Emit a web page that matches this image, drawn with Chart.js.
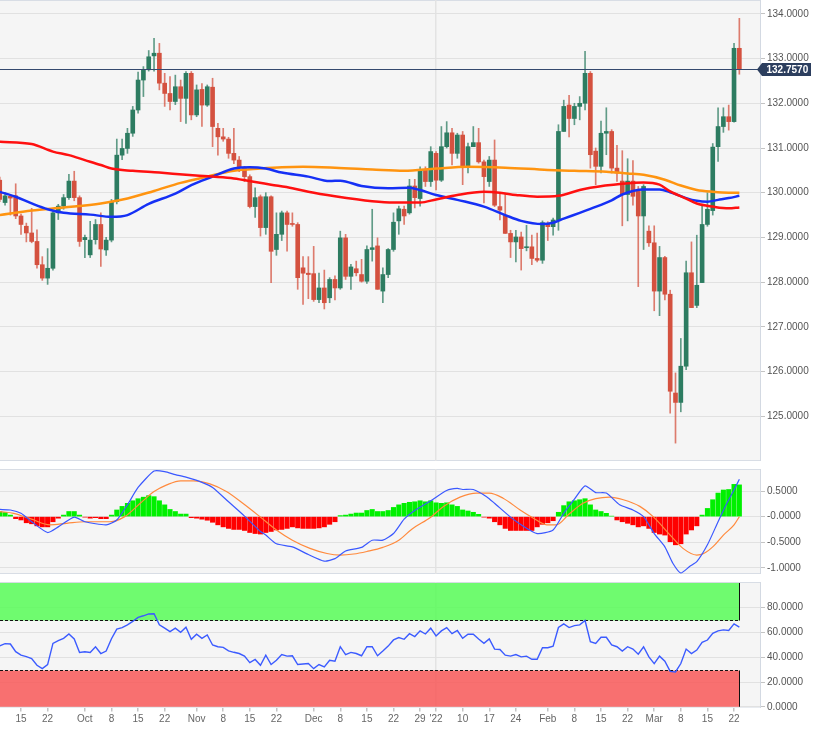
<!DOCTYPE html>
<html>
<head>
<meta charset="utf-8">
<script src="https://cdn.jsdelivr.net/npm/chart.js@4.4.1/dist/chart.umd.min.js"></script>
<style>
  body { margin: 0; background: #ffffff; }
  .panel { position: absolute; left: 0; }
  canvas { display: block; }
</style>
</head>
<body>
<div class="panel" style="top:0"><canvas id="priceChart" width="831" height="461"></canvas></div>
<div class="panel" style="top:469px"><canvas id="macdChart" width="831" height="105"></canvas></div>
<div class="panel" style="top:582px"><canvas id="rsiChart" width="831" height="151"></canvas></div>
<script>
// trading-day index of each date label on the bottom axis
const tickIdx = [4, 9, 16, 21, 26, 31, 37, 42, 47, 52, 59, 64, 69, 74, 79, 82, 87, 92, 97, 103, 108, 113, 118, 123, 128, 133, 138];
const tickLabels = ['15', '22', 'Oct', '8', '15', '22', 'Nov', '8', '15', '22', 'Dec', '8', '15', '22', '29', "'22", '10', '17', '24', 'Feb', '8', '15', '22', 'Mar', '8', '15', '22'];
const yearIdx = 82;

const opens = [130.28,129.78,129.92,129.93,129.48,129.25,129.10,128.91,128.39,128.09,
  128.31,129.55,129.70,129.89,130.26,129.89,128.95,128.61,128.95,129.29,
  128.72,128.94,129.80,130.84,130.99,131.33,131.85,132.52,132.75,133.06,
  133.12,132.45,132.22,132.04,132.37,132.11,132.67,131.74,132.31,131.96,
  132.36,131.44,131.25,131.20,130.88,130.73,130.55,130.36,129.69,129.91,
  129.22,129.91,128.73,129.07,129.55,129.30,129.29,128.32,128.20,128.19,
  127.61,127.87,127.65,128.06,127.87,128.99,128.13,128.30,128.17,128.02,
  128.73,128.81,127.80,128.17,128.73,129.37,129.63,129.55,130.15,129.87,
  130.51,130.25,130.88,130.28,131.03,131.34,130.88,131.29,130.58,131.03,
  131.12,130.69,130.25,130.73,129.69,129.50,129.09,128.90,129.01,128.77,
  128.79,128.53,128.49,129.31,129.24,129.39,131.37,131.96,131.66,131.93,
  132.00,132.67,130.93,130.59,131.33,131.37,130.55,130.26,129.96,130.26,
  130.03,129.48,129.14,128.88,127.80,128.55,127.73,125.52,125.31,126.12,
  128.21,127.48,127.99,129.29,129.60,131.03,131.48,131.70,131.59,133.23];
const highs = [130.35,130.00,129.96,130.20,129.52,129.32,129.65,129.17,128.57,128.75,
  129.58,129.74,129.96,130.41,130.48,129.93,129.05,129.36,129.40,129.55,
  129.00,129.85,131.20,131.20,131.44,131.93,132.70,132.82,133.18,133.45,
  133.34,132.67,132.60,132.63,132.52,132.71,132.71,132.41,132.44,132.41,
  132.56,131.55,131.44,131.24,131.44,130.81,130.59,130.40,130.11,129.95,
  130.00,129.93,129.55,129.59,129.59,129.55,129.33,128.57,128.57,128.80,
  128.20,128.27,128.10,128.14,129.14,129.07,128.40,128.47,128.51,128.81,
  129.63,128.99,128.32,128.75,129.55,129.70,129.70,130.30,130.30,130.58,
  130.58,131.03,130.92,131.48,131.59,131.44,131.33,131.37,131.11,131.48,
  131.44,130.73,130.81,131.18,129.99,129.97,129.16,129.16,129.12,129.27,
  129.05,129.10,129.37,129.35,129.43,131.52,132.07,132.18,132.00,132.15,
  133.16,132.71,131.00,131.60,131.90,131.41,131.06,130.94,130.76,130.72,
  130.14,130.18,129.26,129.26,128.80,128.58,127.82,125.97,126.74,128.47,
  128.90,129.05,129.70,130.00,131.10,131.90,131.90,131.96,133.34,133.90];
const lows = [129.80,129.72,129.50,129.42,129.07,128.90,128.88,128.31,128.04,127.95,
  128.27,129.40,129.63,129.85,129.82,128.80,128.55,128.55,128.85,128.35,
  128.60,128.90,129.75,130.74,130.88,131.26,131.78,132.15,132.72,132.72,
  132.30,131.93,131.85,131.97,131.59,131.55,131.63,131.70,131.48,131.93,
  131.03,130.84,131.15,130.77,130.65,130.47,130.25,129.66,129.45,129.03,
  129.07,127.99,128.60,128.93,128.69,129.25,127.84,127.50,127.63,127.57,
  127.54,127.40,127.54,127.60,127.84,128.06,127.84,128.14,128.00,127.97,
  128.47,127.84,127.54,128.10,128.69,129.07,129.29,129.52,129.66,129.70,
  130.14,130.14,130.06,130.25,131.00,130.62,130.77,130.18,130.44,131.03,
  130.66,129.77,130.14,129.69,129.39,129.09,128.55,128.45,128.27,128.70,
  128.39,128.45,128.42,128.93,129.05,129.16,131.37,131.25,131.52,131.63,
  131.85,130.55,130.18,130.44,130.85,130.44,130.25,129.26,129.37,129.72,
  127.90,128.73,128.80,127.36,127.25,127.60,125.07,124.40,125.10,126.04,
  127.43,127.43,127.99,129.25,129.50,130.70,131.35,131.40,131.58,132.65];
const closes = [129.85,129.93,129.88,129.48,129.29,129.10,128.91,128.39,128.09,128.31,
  129.55,129.70,129.89,130.26,129.89,128.91,129.00,128.94,129.29,128.74,
  128.94,129.80,130.84,130.99,131.33,131.85,132.52,132.75,133.04,133.12,
  132.45,132.22,132.04,132.37,132.11,132.67,131.74,132.30,131.96,132.37,
  131.48,131.25,131.20,130.88,130.73,130.58,130.36,129.69,129.89,129.22,
  129.91,128.69,129.07,129.55,129.29,129.29,128.10,128.20,128.17,127.61,
  127.87,127.54,128.06,127.87,128.99,128.13,128.34,128.21,128.02,128.73,
  128.77,127.84,128.17,128.73,129.34,129.64,129.48,130.15,129.89,130.51,
  130.25,130.92,130.28,131.03,131.34,130.88,131.29,130.58,131.03,131.12,
  130.69,130.36,130.73,129.72,129.61,129.09,128.90,129.01,128.75,128.79,
  128.53,128.49,129.33,129.24,129.39,131.37,131.93,131.66,131.93,132.00,
  132.67,130.85,130.59,131.33,131.37,130.55,130.44,129.96,130.26,129.92,
  129.48,130.14,128.88,127.80,128.55,127.73,125.56,125.31,126.12,128.21,
  127.43,127.93,129.29,129.63,131.02,131.48,131.70,131.59,133.23,132.757];

// moving averages, read at [day index, value]
const maBlue = [[0,130.02],[3,129.91],[6,129.76],[9,129.63],[12,129.55],[17,129.51],[21,129.46],[24,129.5],[28,129.75],[33,129.98],[36,130.17],[40,130.36],[44,130.54],[47,130.57],[50,130.54],[53,130.45],[58,130.36],[62,130.26],[64,130.27],[68,130.15],[73,130.1],[77,130.11],[79,130.06],[82,129.95],[86,129.84],[91,129.69],[95,129.5],[98,129.37],[102,129.3],[104,129.33],[106,129.42],[109,129.55],[111,129.64],[115,129.83],[117,129.96],[121,130.07],[124,130.07],[126,130.01],[129,129.88],[131,129.82],[133,129.8],[135,129.84],[137,129.88],[139,129.93]];
const maRed = [[0,131.14],[6,131.09],[10,130.92],[13,130.84],[16,130.73],[19,130.62],[21,130.54],[25,130.49],[30,130.45],[35,130.4],[40,130.36],[44,130.32],[48,130.24],[51,130.18],[55,130.1],[58,130.02],[63,129.92],[70,129.81],[74,129.78],[79,129.78],[82,129.85],[86,129.95],[91,130.02],[94,130.0],[97,129.95],[101,129.91],[105,129.93],[109,130.06],[111,130.11],[117,130.2],[121,130.23],[124,130.18],[126,130.03],[129,129.87],[131,129.76],[134,129.69],[137,129.65],[139,129.67]];
const maOrange = [[0,129.5],[6,129.6],[12,129.67],[19,129.76],[24,129.87],[29,130.04],[34,130.22],[39,130.36],[44,130.49],[49,130.54],[53,130.57],[57,130.58],[63,130.56],[70,130.52],[76,130.49],[82,130.54],[88,130.58],[95,130.56],[103,130.51],[108,130.49],[114,130.47],[118,130.43],[121,130.4],[125,130.29],[128,130.16],[131,130.06],[134,130.02],[137,130.0],[139,130.0]];

const macdHist = [0.10,0.08,0.03,-0.04,-0.065,-0.12,-0.14,-0.18,-0.20,-0.20,
  -0.10,-0.03,0.03,0.10,0.10,0.03,-0.01,-0.03,-0.02,-0.04,
  -0.04,0.03,0.13,0.20,0.26,0.31,0.35,0.38,0.41,0.39,
  0.31,0.23,0.14,0.10,0.05,0.05,-0.02,-0.03,-0.05,-0.07,
  -0.11,-0.16,-0.20,-0.23,-0.25,-0.25,-0.27,-0.31,-0.33,-0.34,
  -0.31,-0.29,-0.26,-0.25,-0.23,-0.20,-0.22,-0.23,-0.23,-0.23,
  -0.22,-0.20,-0.15,-0.10,0.02,0.03,0.05,0.07,0.07,0.12,
  0.14,0.10,0.10,0.12,0.18,0.23,0.26,0.28,0.29,0.31,
  0.29,0.31,0.27,0.26,0.27,0.23,0.20,0.13,0.11,0.085,
  0.045,-0.01,-0.03,-0.10,-0.16,-0.23,-0.27,-0.27,-0.27,-0.27,
  -0.27,-0.20,-0.15,-0.12,-0.08,0.085,0.215,0.29,0.31,0.33,
  0.35,0.23,0.13,0.10,0.065,0.01,-0.065,-0.10,-0.13,-0.16,
  -0.20,-0.18,-0.23,-0.31,-0.34,-0.36,-0.49,-0.55,-0.53,-0.34,
  -0.26,-0.18,0.03,0.16,0.33,0.46,0.52,0.53,0.63,0.62];
const macdLine = [[0,0.14],[2,0.13],[4,0.065],[6,-0.1],[9,-0.31],[11,-0.2],[14,-0.01],[16,-0.1],[20,-0.16],[22,-0.065],[24,0.23],[26,0.57],[29,0.89],[31,0.88],[33,0.82],[35,0.77],[38,0.67],[40,0.57],[43,0.29],[46,0.01],[49,-0.29],[50,-0.36],[52,-0.53],[55,-0.59],[58,-0.74],[61,-0.87],[63,-0.82],[65,-0.67],[68,-0.6],[70,-0.46],[72,-0.46],[74,-0.33],[76,-0.05],[78,0.12],[81,0.31],[84,0.51],[86,0.55],[87,0.53],[89,0.53],[91.5,0.39],[93,0.26],[96,-0.01],[98,-0.16],[101,-0.33],[104,-0.26],[106,0.065],[108,0.34],[110,0.6],[112,0.47],[114,0.46],[116.5,0.23],[119,0.13],[121,0],[123,-0.33],[125,-0.59],[126.5,-0.91],[128,-1.1],[129.7,-0.97],[131,-0.88],[133,-0.55],[135,-0.1],[136.7,0.27],[138,0.52],[139,0.73]];
const macdSignal = [[0,0.1],[2.6,0.065],[6,-0.05],[9.4,-0.16],[12.6,-0.13],[16,-0.1],[20.7,-0.1],[23.5,0],[26.4,0.26],[29,0.49],[31.4,0.62],[34,0.7],[36.4,0.7],[39.5,0.64],[42.6,0.49],[45.8,0.25],[49,-0.01],[52,-0.26],[55,-0.46],[58.3,-0.62],[61.5,-0.72],[64,-0.75],[66.5,-0.73],[69,-0.68],[72,-0.6],[75,-0.46],[77.5,-0.24],[81,-0.01],[83.4,0.2],[86.5,0.38],[89.6,0.46],[92,0.46],[94.6,0.36],[97.8,0.13],[100.3,-0.03],[102.8,-0.16],[104.6,-0.16],[107,0.05],[109.6,0.26],[112,0.35],[114.6,0.38],[117.2,0.33],[120.3,0.2],[122.8,0],[126,-0.36],[128.4,-0.62],[131,-0.75],[132.3,-0.72],[134.2,-0.57],[136,-0.36],[138,-0.16],[139,0]];

const rsi = [49.3,51.0,50.7,44.5,41.7,40.5,39.0,33.5,30.8,34.0,
  51.2,53.5,55.3,58.8,54.8,43.9,44.4,43.9,48.5,43.0,
  45.0,55.0,62.7,64.0,66.2,69.0,72.2,73.5,75.0,75.2,
  66.2,63.5,60.7,63.5,60.2,64.3,54.5,58.6,55.3,58.0,
  49.9,48.5,48.0,45.2,44.0,43.0,40.9,35.7,38.2,33.5,
  41.7,34.1,37.6,42.2,40.9,41.2,34.1,34.5,34.9,30.8,
  34.1,32.2,37.6,36.8,48.5,42.2,43.9,43.0,41.2,48.5,
  48.5,41.2,45.0,49.0,54.0,55.9,54.5,59.0,56.7,61.3,
  58.8,63.5,57.2,61.3,64.0,59.1,61.6,55.3,58.6,58.6,
  54.8,51.2,54.8,46.6,46.3,41.7,40.9,42.2,40.3,40.9,
  38.4,38.4,47.7,47.7,49.0,64.0,67.0,64.0,65.6,66.2,
  69.7,52.6,51.2,56.1,56.1,49.9,48.5,45.0,48.5,46.6,
  42.5,48.5,40.3,34.9,40.9,36.8,28.6,28.1,34.9,46.6,
  43.0,45.8,52.0,53.9,59.4,61.3,62.1,61.6,67.0,64.3];

const priceTicks = [125, 126, 127, 128, 129, 130, 131, 132, 133, 134];
const macdTicks = [-1, -0.5, 0, 0.5];
const rsiTicks = [0, 20, 40, 60, 80];
const rsiUpper = 70, rsiLower = 30;

document.addEventListener('DOMContentLoaded', () => {
    Chart.defaults.font.family = "'Liberation Sans', Arial, sans-serif";
    Chart.defaults.font.size = 10;
    Chart.defaults.animation = false;

    const GREEN = '#2d7c61';
    const RED = '#d4513f';
    const X_MIN = 0.05, X_MAX = 142.88;
    const AXIS_W = 71;
    const lastIdx = closes.length - 1;
    const lastPrice = closes[lastIdx];
    const pairs = arr => arr.map(p => ({ x: p[0], y: p[1] }));

    const xAxis = (showLabels) => ({
        type: 'linear',
        min: X_MIN,
        max: X_MAX,
        offset: false,
        afterBuildTicks: (s) => { s.ticks = (showLabels ? tickIdx : [yearIdx]).map(v => ({ value: v })); },
        ticks: {
            display: showLabels,
            autoSkip: false,
            maxRotation: 0,
            padding: 2,
            color: '#666',
            callback: (v) => tickLabels[tickIdx.indexOf(v)]
        },
        grid: {
            offset: false,
            color: (c) => (c.tick && c.tick.value === yearIdx) ? '#e3e3e3' : 'rgba(0,0,0,0)',
            lineWidth: 1.5,
            drawTicks: showLabels,
            tickLength: 4,
            tickColor: '#c4c4c4'
        },
        border: { display: false },
        afterFit: (s) => {
            s.height = showLabels ? 25.5 : 0;
            s.paddingLeft = 0;
            s.paddingRight = 0;
        }
    });

    const yAxis = (ticks, min, max, fmt) => ({
        position: 'right',
        min: min,
        max: max,
        afterBuildTicks: (s) => { s.ticks = ticks.map(v => ({ value: v })); },
        ticks: { color: '#555', padding: 2, callback: fmt },
        grid: { color: '#e1e1e1', tickLength: 5, tickColor: '#c4c4c4' },
        border: { display: true, color: '#d3d9e2' },
        afterFit: (s) => {
            s.width = AXIS_W;
            s.paddingTop = 0;
            s.paddingBottom = 0;
        }
    });

    // plot background and thin panel edges
    const panelBg = {
        id: 'panelBg',
        beforeDraw: (chart) => {
            const { ctx, chartArea: a } = chart;
            ctx.save();
            ctx.fillStyle = '#f5f5f5';
            ctx.fillRect(a.left, a.top, a.right - a.left, a.bottom - a.top);
            ctx.strokeStyle = '#d8dde5';
            ctx.lineWidth = 1;
            ctx.beginPath();
            ctx.moveTo(a.left, a.top + 0.5);
            ctx.lineTo(a.right, a.top + 0.5);
            ctx.moveTo(a.left, a.bottom - 0.5);
            ctx.lineTo(a.right, a.bottom - 0.5);
            ctx.stroke();
            ctx.restore();
        }
    };

    const common = {
        responsive: false,
        maintainAspectRatio: false,
        layout: { padding: 0 },
        plugins: { legend: { display: false }, tooltip: { enabled: false } }
    };

    // ---- price panel ----
    new Chart(document.getElementById('priceChart'), {
        type: 'bar',
        data: {
            datasets: [
                {
                    type: 'line', data: pairs(maRed), borderColor: '#ff1010', borderWidth: 2.5,
                    pointRadius: 0, cubicInterpolationMode: 'monotone', order: 0
                },
                {
                    type: 'line', data: pairs(maBlue), borderColor: '#1530f5', borderWidth: 2.5,
                    pointRadius: 0, cubicInterpolationMode: 'monotone', order: 0
                },
                {
                    type: 'line', data: pairs(maOrange), borderColor: '#ff9410', borderWidth: 2.5,
                    pointRadius: 0, cubicInterpolationMode: 'monotone', order: 0
                },
                {
                    data: opens.map((o, i) => ({ x: i, y: [o, closes[i]] })),
                    backgroundColor: opens.map((o, i) => closes[i] >= o ? GREEN : RED),
                    barThickness: 4, minBarLength: 1, grouped: false, order: 2
                },
                {
                    data: lows.map((l, i) => ({ x: i, y: [l, highs[i]] })),
                    backgroundColor: opens.map((o, i) => closes[i] >= o ? 'rgba(45,124,97,0.75)' : 'rgba(212,81,63,0.75)'),
                    barThickness: 1, grouped: false, order: 3
                }
            ]
        },
        options: {
            ...common,
            scales: {
                x: xAxis(false),
                y: yAxis(priceTicks, 124.0, 134.31, (v) => v.toFixed(4))
            }
        },
        plugins: [panelBg, {
            id: 'lastPrice',
            afterDraw: (chart) => {
                const { ctx, chartArea: a, scales: { y } } = chart;
                const py = Math.round(y.getPixelForValue(lastPrice)) + 0.5;
                ctx.save();
                ctx.strokeStyle = '#34496e';
                ctx.lineWidth = 1;
                ctx.beginPath();
                ctx.moveTo(a.left, py);
                ctx.lineTo(a.right, py);
                ctx.stroke();
                ctx.fillStyle = '#2c3e5e';
                ctx.beginPath();
                ctx.moveTo(a.right - 3, py);
                ctx.lineTo(a.right + 2, py - 6.5);
                ctx.lineTo(a.right + 51, py - 6.5);
                ctx.lineTo(a.right + 51, py + 6.5);
                ctx.lineTo(a.right + 2, py + 6.5);
                ctx.closePath();
                ctx.fill();
                ctx.fillStyle = '#ffffff';
                ctx.font = "bold 10px 'Liberation Sans', Arial, sans-serif";
                ctx.textBaseline = 'middle';
                ctx.fillText(lastPrice.toFixed(4), a.right + 6.5, py + 0.5);
                ctx.restore();
            }
        }]
    });

    // ---- MACD panel ----
    new Chart(document.getElementById('macdChart'), {
        type: 'bar',
        data: {
            datasets: [
                {
                    type: 'line', data: pairs(macdLine), borderColor: '#3a58ff', borderWidth: 1.2,
                    pointRadius: 0, tension: 0.2, order: 0
                },
                {
                    type: 'line', data: pairs(macdSignal), borderColor: '#ff8a3d', borderWidth: 1.2,
                    pointRadius: 0, cubicInterpolationMode: 'monotone', order: 0
                },
                {
                    data: macdHist.map((v, i) => ({ x: i, y: v })),
                    backgroundColor: macdHist.map(v => v >= 0 ? '#00f000' : '#ff0000'),
                    barThickness: 4.4, grouped: false, order: 2
                }
            ]
        },
        options: {
            ...common,
            scales: {
                x: xAxis(false),
                y: yAxis(macdTicks, -1.12, 0.93, (v) => v === 0 ? '-0.0000' : v.toFixed(4))
            }
        },
        plugins: [panelBg]
    });

    // ---- RSI panel ----
    new Chart(document.getElementById('rsiChart'), {
        type: 'line',
        data: {
            datasets: [{
                data: rsi.map((v, i) => ({ x: i, y: v })),
                borderColor: '#3b5bff',
                borderWidth: 1.4,
                pointRadius: 0,
                tension: 0
            }]
        },
        options: {
            ...common,
            scales: {
                x: xAxis(true),
                y: yAxis(rsiTicks, -0.6, 100.8, (v) => v.toFixed(4))
            }
        },
        plugins: [panelBg, {
            id: 'rsiBands',
            beforeDatasetsDraw: (chart) => {
                const { ctx, chartArea: a, scales: { x, y } } = chart;
                const x1 = Math.round(x.getPixelForValue(lastIdx)) + 0.5;
                const yTop = y.getPixelForValue(100);
                const yUp = Math.round(y.getPixelForValue(rsiUpper)) + 0.5;
                const yLo = Math.round(y.getPixelForValue(rsiLower)) + 0.5;
                const yBot = y.getPixelForValue(0);
                ctx.save();
                ctx.fillStyle = 'rgba(87,252,87,0.85)';
                ctx.fillRect(a.left, yTop, x1 - a.left, yUp - yTop);
                ctx.fillStyle = 'rgba(248,88,88,0.85)';
                ctx.fillRect(a.left, yLo, x1 - a.left, yBot - yLo);
                ctx.strokeStyle = '#111';
                ctx.lineWidth = 1;
                ctx.beginPath();
                ctx.moveTo(x1, yTop);
                ctx.lineTo(x1, yUp);
                ctx.moveTo(x1, yLo);
                ctx.lineTo(x1, yBot);
                ctx.stroke();
                ctx.setLineDash([3, 2]);
                ctx.beginPath();
                ctx.moveTo(a.left, yUp);
                ctx.lineTo(x1, yUp);
                ctx.moveTo(a.left, yLo);
                ctx.lineTo(x1, yLo);
                ctx.stroke();
                ctx.restore();
            }
        }]
    });
});
</script>
</body>
</html>
